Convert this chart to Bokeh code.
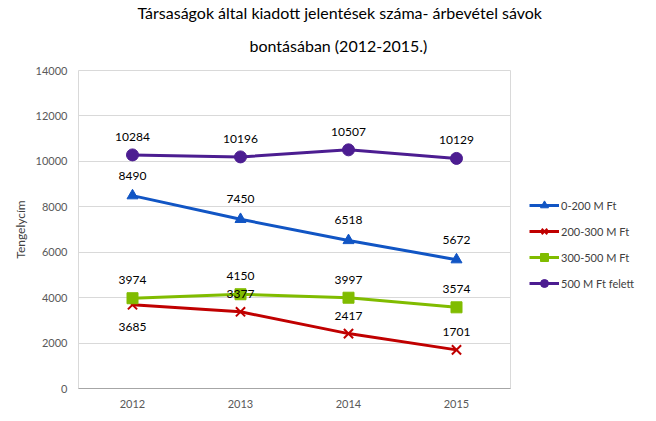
from bokeh.plotting import figure
from bokeh.models import ColumnDataSource, Legend, LegendItem, LabelSet, FixedTicker, Title
from bokeh.core.properties import value
from bokeh.embed import file_html
from bokeh.resources import INLINE

years = ["2012", "2013", "2014", "2015"]
s_0_200 = [8490, 7450, 6518, 5672]
s_200_300 = [3685, 3377, 2417, 1701]
s_300_500 = [3974, 4150, 3997, 3574]
s_500 = [10284, 10196, 10507, 10129]
names = ["0-200 M Ft", "200-300 M Ft", "300-500 M Ft", "500 M Ft felett"]
y_ticks = [0, 2000, 4000, 6000, 8000, 10000, 12000, 14000]
title_lines = ["Társaságok által kiadott jelentések száma- árbevétel sávok",
               "bontásában (2012-2015.)"]

FONT = "Lato"
p = figure(frame_width=432, frame_height=318, x_range=years, y_range=(0, 14000),
           output_backend="svg", toolbar_location=None, title=None,
           min_border_left=78, min_border_right=0, min_border_bottom=2, min_border_top=13)

# line 2 (closest to the frame), then line 1
t2 = Title(text=title_lines[1], align="left", offset=171, text_font=FONT,
           text_font_size="16px", text_font_style="normal", text_color="#000000",
           standoff=28, vertical_align="top")
t1 = Title(text=title_lines[0], align="left", offset=59, text_font=FONT,
           text_font_size="16px", text_font_style="normal", text_color="#000000",
           standoff=0)
p.add_layout(t2, "above")
p.add_layout(t1, "above")

p.outline_line_color = "#D9D9D9"
p.xgrid.grid_line_color = None
p.ygrid.grid_line_color = "#D9D9D9"
p.yaxis.ticker = FixedTicker(ticks=y_ticks)
p.yaxis.axis_line_color = None
p.yaxis.major_tick_line_color = None
p.yaxis.minor_tick_line_color = None
p.xaxis.axis_line_color = "#A6A6A6"
p.xaxis.major_tick_line_color = None
for ax in (p.xaxis, p.yaxis):
    ax.major_label_text_font = FONT
    ax.major_label_text_font_size = "11px"
    ax.major_label_text_color = "#595959"
p.yaxis.axis_label = "Tengelycím"
p.yaxis.axis_label_text_font = FONT
p.yaxis.axis_label_text_font_size = "12px"
p.yaxis.axis_label_text_font_style = "normal"
p.yaxis.axis_label_text_color = "#404040"

colors = ["#1155C4", "#C00000", "#80BC00", "#4C1D91"]
series = [s_0_200, s_200_300, s_300_500, s_500]
items = []
for i, (vals, col, nm) in enumerate(zip(series, colors, names)):
    src = ColumnDataSource(dict(x=years, y=vals))
    ln = p.line("x", "y", source=src, line_color=col, line_width=3)
    if i == 0:
        mk = p.scatter("x", "y", source=src, marker="triangle", size=11, color=col)
    elif i == 1:
        mk = p.scatter("x", "y", source=src, marker="x", size=13, line_color=col, line_width=2)
    elif i == 2:
        mk = p.scatter("x", "y", source=src, marker="square", size=11, color=col)
    else:
        mk = p.scatter("x", "y", source=src, marker="circle", size=12, color=col)
    items.append(LegendItem(label=nm, renderers=[ln, mk]))

# data labels
for i, vals in enumerate(series):
    offs = [18] * 4
    if i == 1:
        offs = [-22, 18, 18, 18]
    if i == 0:
        offs = [20, 20, 20, 20]
    src = ColumnDataSource(dict(x=years, y=vals, t=[str(v) for v in vals], o=offs))
    ls = LabelSet(x="x", y="y", text="t", source=src, y_offset="o",
                  text_align="center", text_baseline="middle",
                  text_font=value(FONT), text_font_size="12px", text_color="#000000")
    p.add_layout(ls)

legend = Legend(items=items, location=(19, 95), border_line_color=None,
                background_fill_alpha=0,
                label_text_font=FONT, label_text_font_size="11px",
                label_text_color="#404040", glyph_width=30, spacing=6,
                label_standoff=2, margin=12, padding=4)
p.add_layout(legend, "right")

open("out.html", "w").write(file_html(p, INLINE))
